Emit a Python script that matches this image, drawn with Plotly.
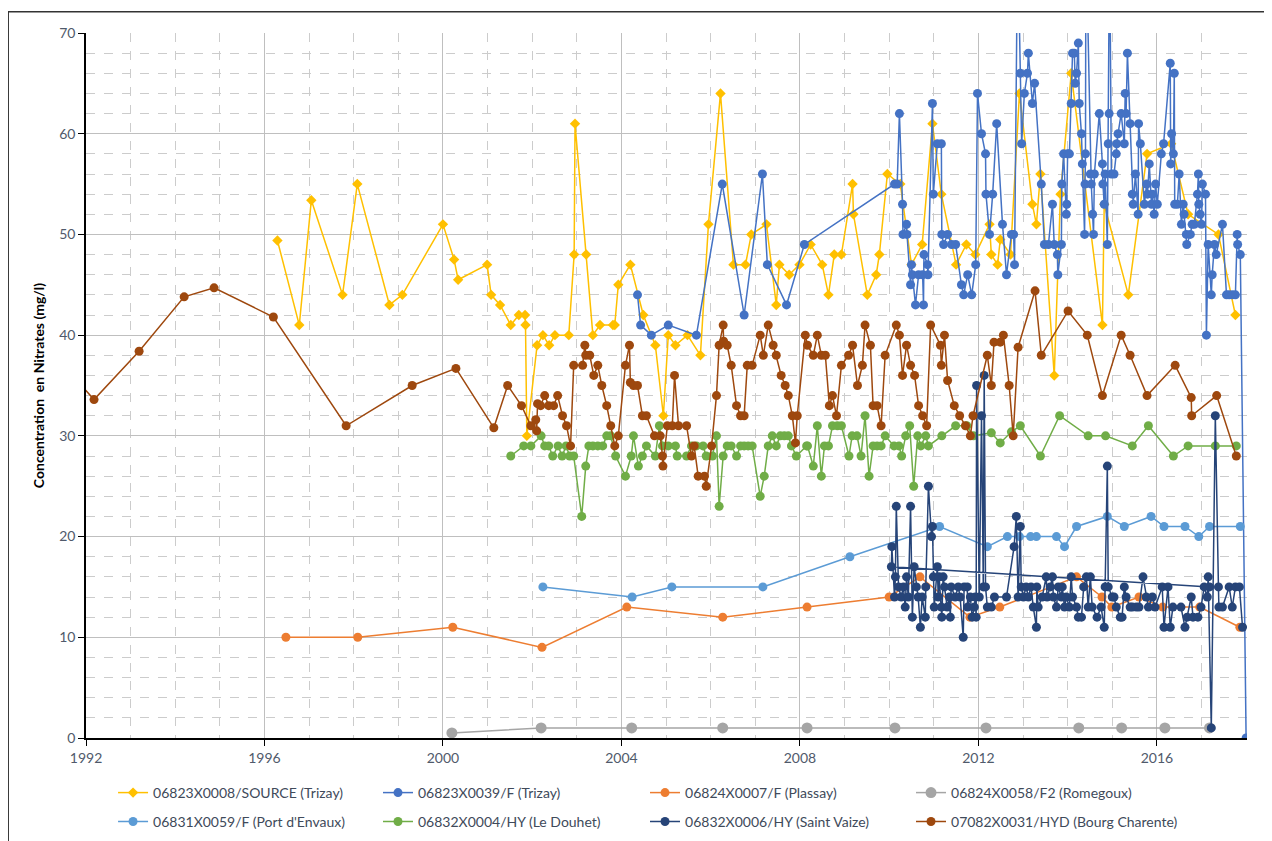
import plotly.graph_objects as go

# (decimal year, nitrate mg/l)
src_trizay = [
    (1996.29, 49.4), (1996.78, 41), (1997.05, 53.4), (1997.75, 44), (1998.08, 55), (1998.80, 43),
    (1999.09, 44), (2000.00, 51), (2000.25, 47.5), (2000.34, 45.5), (2000.99, 47), (2001.08, 44),
    (2001.28, 43), (2001.52, 41), (2001.70, 42), (2001.84, 42), (2001.85, 41), (2001.88, 30),
    (2002.11, 39), (2002.24, 40), (2002.38, 39), (2002.51, 40), (2002.82, 40), (2002.94, 48),
    (2002.96, 61), (2003.21, 48), (2003.36, 40), (2003.52, 41), (2003.81, 41), (2003.85, 41),
    (2003.93, 45), (2004.20, 47), (2004.49, 42), (2004.76, 39), (2004.94, 32), (2005.05, 40),
    (2005.21, 39), (2005.48, 40), (2005.77, 38), (2005.95, 51), (2006.22, 64), (2006.51, 47),
    (2006.78, 47), (2006.91, 50), (2007.25, 51), (2007.47, 43), (2007.54, 47), (2007.76, 46),
    (2007.99, 47), (2008.24, 49), (2008.50, 47), (2008.64, 44), (2008.77, 48), (2008.93, 48),
    (2009.18, 55), (2009.20, 52), (2009.51, 44), (2009.71, 46), (2009.78, 48), (2009.96, 56),
    (2010.25, 55), (2010.50, 47), (2010.74, 49), (2010.97, 61), (2011.17, 54), (2011.50, 47),
    (2011.73, 49), (2011.93, 48), (2012.25, 51), (2012.29, 48), (2012.43, 47), (2012.49, 49.5),
    (2012.72, 48), (2012.92, 64), (2013.21, 53), (2013.30, 51), (2013.39, 56), (2013.70, 36),
    (2013.84, 54), (2014.08, 66), (2014.78, 41), (2014.82, 53), (2015.36, 44), (2015.78, 58),
    (2016.32, 59), (2016.70, 52), (2017.38, 50), (2017.76, 42),
]

f_trizay = [
    (2004.36, 44), (2004.43, 41), (2004.67, 40), (2005.05, 41), (2005.68, 40), (2006.26, 55),
    (2006.75, 42), (2007.16, 56), (2007.27, 47), (2007.70, 43), (2008.10, 49), (2010.12, 55),
    (2010.18, 55), (2010.23, 62), (2010.30, 53), (2010.31, 50), (2010.39, 51), (2010.40, 50),
    (2010.48, 45), (2010.50, 47), (2010.52, 46), (2010.59, 43), (2010.66, 46), (2010.75, 46),
    (2010.77, 43), (2010.78, 48), (2010.86, 47), (2010.87, 46), (2010.97, 63), (2010.99, 54),
    (2011.08, 59), (2011.17, 59), (2011.18, 50), (2011.22, 49), (2011.31, 50), (2011.40, 49),
    (2011.49, 49), (2011.62, 45), (2011.67, 44), (2011.76, 46), (2011.85, 44), (2011.94, 47),
    (2011.98, 64), (2012.07, 60), (2012.16, 58), (2012.17, 54), (2012.25, 50), (2012.32, 54),
    (2012.41, 61), (2012.54, 51), (2012.63, 46), (2012.74, 50), (2012.79, 50), (2012.81, 47),
    (2012.88, 80), (2012.94, 66), (2012.97, 59), (2013.03, 64), (2013.10, 66), (2013.12, 68),
    (2013.21, 63), (2013.26, 65), (2013.41, 55), (2013.48, 49), (2013.57, 49), (2013.66, 53),
    (2013.70, 49), (2013.77, 48), (2013.78, 46), (2013.86, 49), (2013.87, 55), (2013.91, 58),
    (2013.97, 52), (2013.98, 53), (2014.00, 58), (2014.04, 58), (2014.08, 63), (2014.11, 68),
    (2014.15, 68), (2014.17, 65), (2014.20, 66), (2014.24, 69), (2014.26, 63), (2014.31, 60),
    (2014.33, 57), (2014.38, 50), (2014.39, 55), (2014.40, 58), (2014.41, 80), (2014.51, 56),
    (2014.53, 55), (2014.56, 52), (2014.58, 50), (2014.60, 56), (2014.71, 62), (2014.78, 57),
    (2014.79, 55), (2014.82, 53), (2014.84, 56), (2014.89, 49), (2014.91, 59), (2014.93, 62),
    (2014.94, 80), (2014.98, 56), (2015.04, 56), (2015.09, 58), (2015.10, 59), (2015.13, 60),
    (2015.20, 62), (2015.27, 59), (2015.29, 64), (2015.31, 62), (2015.34, 68), (2015.40, 61),
    (2015.45, 54), (2015.47, 53), (2015.52, 56), (2015.58, 52), (2015.59, 61), (2015.63, 59),
    (2015.72, 53), (2015.77, 55), (2015.79, 54), (2015.83, 57), (2015.88, 53), (2015.90, 54),
    (2015.94, 52), (2015.97, 55), (2016.01, 53), (2016.10, 58), (2016.15, 59), (2016.30, 67),
    (2016.31, 57), (2016.33, 60), (2016.37, 58), (2016.39, 66), (2016.40, 53), (2016.46, 53),
    (2016.50, 56), (2016.55, 51), (2016.59, 53), (2016.61, 52), (2016.66, 50), (2016.67, 49),
    (2016.75, 50), (2016.79, 51), (2016.84, 51), (2016.91, 54), (2016.93, 56), (2016.94, 53),
    (2016.97, 52), (2017.00, 51), (2017.02, 55), (2017.09, 54), (2017.11, 40), (2017.15, 49),
    (2017.22, 44), (2017.24, 46), (2017.29, 49), (2017.33, 48), (2017.47, 51), (2017.56, 44),
    (2017.62, 44), (2017.69, 44), (2017.76, 44), (2017.80, 50), (2017.81, 49), (2017.87, 48),
    (2018.00, 0),
]

plassay = [
    (1996.48, 10), (1998.09, 10), (2000.22, 11), (2002.22, 9), (2004.12, 13), (2006.27, 12),
    (2008.16, 13), (2010.00, 14), (2010.69, 16), (2011.81, 12), (2012.48, 13), (2014.20, 16),
    (2014.77, 14), (2014.99, 13), (2015.60, 14), (2016.13, 13), (2016.96, 13), (2017.86, 11),
]

romegoux = [
    (2000.20, 0.5), (2002.20, 1), (2004.23, 1), (2006.27, 1), (2008.16, 1), (2010.13, 1),
    (2012.17, 1), (2014.25, 1), (2015.21, 1), (2016.18, 1), (2017.18, 1),
]

port_envaux = [
    (2002.24, 15), (2004.24, 14), (2005.13, 15), (2007.17, 15), (2009.12, 18), (2011.13, 21),
    (2012.20, 19), (2012.65, 20), (2012.92, 20), (2013.17, 20), (2013.30, 20), (2013.75, 20),
    (2013.93, 19), (2014.20, 21), (2014.89, 22), (2015.27, 21), (2015.87, 22), (2016.16, 21),
    (2016.63, 21), (2016.94, 20), (2017.18, 21), (2017.87, 21),
]

le_douhet = [
    (2001.52, 28), (2001.81, 29), (2001.97, 29), (2002.20, 30), (2002.28, 29), (2002.37, 29),
    (2002.46, 28), (2002.58, 29), (2002.67, 28), (2002.76, 29), (2002.84, 28), (2002.93, 28),
    (2003.11, 22), (2003.20, 27), (2003.27, 29), (2003.36, 29), (2003.47, 29), (2003.58, 29),
    (2003.67, 30), (2003.76, 30), (2003.87, 28), (2004.09, 26), (2004.22, 28), (2004.27, 30),
    (2004.38, 27), (2004.47, 28), (2004.56, 29), (2004.76, 28), (2004.85, 31), (2004.92, 29),
    (2005.05, 29), (2005.21, 29), (2005.25, 28), (2005.46, 28), (2005.57, 29), (2005.68, 29),
    (2005.83, 29), (2005.90, 28), (2006.04, 28), (2006.13, 30), (2006.19, 23), (2006.28, 28),
    (2006.37, 29), (2006.46, 29), (2006.58, 28), (2006.67, 29), (2006.75, 29), (2006.84, 29),
    (2006.93, 29), (2007.11, 24), (2007.20, 26), (2007.29, 29), (2007.38, 30), (2007.47, 29),
    (2007.56, 30), (2007.65, 30), (2007.74, 30), (2007.81, 29), (2007.92, 28), (2008.15, 29),
    (2008.17, 29), (2008.30, 27), (2008.39, 31), (2008.48, 26), (2008.55, 29), (2008.64, 29),
    (2008.73, 31), (2008.84, 31), (2008.93, 31), (2009.10, 28), (2009.17, 30), (2009.28, 30),
    (2009.37, 28), (2009.46, 32), (2009.55, 26), (2009.64, 29), (2009.73, 29), (2009.82, 29),
    (2009.91, 30), (2010.11, 29), (2010.22, 29), (2010.28, 28), (2010.37, 30), (2010.46, 31),
    (2010.55, 25), (2010.64, 30), (2010.71, 29), (2010.82, 30), (2010.88, 29), (2011.18, 30),
    (2011.49, 31), (2011.74, 31), (2011.89, 30), (2012.29, 30.3), (2012.49, 29.3), (2012.74, 30.4),
    (2012.94, 31), (2013.39, 28), (2013.82, 32), (2014.46, 30), (2014.85, 30), (2015.45, 29),
    (2015.81, 31), (2016.37, 28), (2016.70, 29), (2017.31, 29), (2017.78, 29),
]

saint_vaize = [
    (2017.18, 15), (2010.05, 17), (2010.06, 19), (2010.12, 14), (2010.14, 16), (2010.16, 23),
    (2010.21, 15), (2010.27, 14), (2010.32, 15), (2010.36, 13), (2010.39, 16), (2010.43, 14),
    (2010.48, 23), (2010.52, 12), (2010.56, 17), (2010.61, 15), (2010.65, 14), (2010.70, 11),
    (2010.74, 14), (2010.81, 12), (2010.82, 15), (2010.88, 25), (2010.95, 20), (2010.97, 21),
    (2010.99, 16), (2011.01, 13), (2011.08, 17), (2011.10, 14), (2011.12, 16), (2011.17, 13),
    (2011.18, 12), (2011.21, 16), (2011.24, 15), (2011.30, 13), (2011.35, 14), (2011.37, 12),
    (2011.39, 15), (2011.48, 14), (2011.55, 15), (2011.59, 14), (2011.66, 10), (2011.68, 15),
    (2011.75, 15), (2011.76, 13), (2011.82, 14), (2011.86, 12), (2011.91, 13), (2011.93, 14),
    (2011.95, 12), (2011.96, 35), (2012.02, 14), (2012.07, 32), (2012.11, 15), (2012.13, 36),
    (2012.16, 15), (2012.20, 13), (2012.29, 13), (2012.36, 14), (2012.63, 14), (2012.80, 19),
    (2012.85, 22), (2012.89, 14), (2012.94, 21), (2012.96, 15), (2013.01, 14), (2013.07, 15),
    (2013.12, 14), (2013.18, 15), (2013.23, 13), (2013.30, 11), (2013.31, 15), (2013.34, 13),
    (2013.43, 14), (2013.52, 16), (2013.54, 14), (2013.61, 15), (2013.66, 16), (2013.68, 14),
    (2013.75, 13), (2013.79, 15), (2013.86, 14), (2013.88, 15), (2013.93, 13), (2013.97, 14),
    (2014.04, 13), (2014.08, 16), (2014.11, 14), (2014.20, 13), (2014.24, 12), (2014.31, 12),
    (2014.36, 15), (2014.42, 16), (2014.46, 13), (2014.51, 16), (2014.55, 13), (2014.66, 12),
    (2014.75, 13), (2014.82, 11), (2014.84, 15), (2014.89, 27), (2014.91, 15), (2015.00, 14),
    (2015.04, 14), (2015.09, 13), (2015.18, 12), (2015.22, 12), (2015.27, 15), (2015.31, 14),
    (2015.40, 13), (2015.45, 13), (2015.54, 13), (2015.60, 13), (2015.69, 16), (2015.76, 14),
    (2015.81, 13), (2015.90, 14), (2015.96, 13), (2016.12, 15), (2016.16, 11), (2016.25, 15),
    (2016.30, 11), (2016.36, 13), (2016.54, 13), (2016.63, 11), (2016.68, 12), (2016.77, 14),
    (2016.81, 12), (2016.92, 12), (2016.99, 13), (2017.06, 15), (2017.13, 14), (2017.15, 16),
    (2017.22, 1), (2017.31, 32), (2017.38, 15), (2017.39, 13), (2017.47, 13), (2017.62, 15),
    (2017.69, 13), (2017.76, 15), (2017.85, 15), (2017.92, 11),
]

bourg_charente = [
    (1991.90, 35), (1992.18, 33.6), (1993.19, 38.4), (1994.20, 43.8), (1994.87, 44.7), (1996.20, 41.8),
    (1997.83, 31), (1999.31, 35), (2000.29, 36.7), (2001.14, 30.8), (2001.45, 35), (2001.76, 33),
    (2001.97, 31), (2002.08, 31.6), (2002.10, 30.5), (2002.12, 33.2), (2002.19, 33), (2002.28, 34),
    (2002.37, 33), (2002.48, 33), (2002.57, 34), (2002.68, 32), (2002.77, 31), (2002.86, 29),
    (2002.93, 37), (2003.13, 37), (2003.18, 39), (2003.20, 38), (2003.29, 38), (2003.38, 36),
    (2003.47, 37), (2003.56, 35), (2003.67, 33), (2003.76, 31), (2003.85, 29), (2003.93, 30),
    (2004.09, 37), (2004.18, 39), (2004.20, 35.3), (2004.27, 35), (2004.36, 35), (2004.47, 32),
    (2004.56, 32), (2004.74, 30), (2004.87, 30), (2004.92, 28), (2004.93, 27), (2005.03, 31),
    (2005.14, 31), (2005.19, 36), (2005.28, 31), (2005.46, 31), (2005.57, 28), (2005.63, 29),
    (2005.72, 26), (2005.86, 26), (2005.90, 25), (2006.02, 29), (2006.13, 34), (2006.19, 39),
    (2006.28, 41), (2006.29, 39.4), (2006.37, 39), (2006.46, 37), (2006.58, 33), (2006.67, 32),
    (2006.75, 32), (2006.82, 37), (2006.93, 37), (2007.11, 40), (2007.18, 38), (2007.29, 41),
    (2007.40, 39), (2007.47, 38), (2007.58, 36), (2007.67, 35), (2007.74, 34), (2007.83, 32),
    (2007.90, 29.3), (2007.94, 32), (2008.12, 40), (2008.17, 39), (2008.30, 38), (2008.39, 40),
    (2008.48, 38), (2008.57, 38), (2008.66, 33), (2008.73, 34), (2008.82, 32), (2008.93, 37),
    (2009.09, 38), (2009.18, 39), (2009.29, 35), (2009.40, 37), (2009.46, 41), (2009.58, 39),
    (2009.64, 33), (2009.73, 33), (2009.82, 31), (2009.91, 38), (2010.16, 41), (2010.23, 40),
    (2010.30, 36), (2010.39, 39), (2010.48, 37), (2010.57, 36), (2010.66, 33), (2010.75, 32),
    (2010.84, 31), (2010.93, 41), (2011.15, 39), (2011.17, 37), (2011.24, 40), (2011.31, 35.5),
    (2011.46, 33), (2011.58, 32), (2011.71, 31), (2011.82, 30), (2011.88, 32), (2012.20, 38),
    (2012.29, 35), (2012.35, 39.3), (2012.49, 39.3), (2012.56, 40), (2012.69, 35), (2012.78, 30),
    (2012.89, 38.8), (2013.27, 44.4), (2013.41, 38), (2014.01, 42.4), (2014.44, 40), (2014.78, 34),
    (2015.20, 40), (2015.40, 38), (2015.78, 34), (2016.41, 37), (2016.77, 33.8), (2016.78, 32),
    (2017.34, 34), (2017.78, 28),
]

series = [
    ("06823X0008/SOURCE (Trizay)", src_trizay, "#FFC000", "diamond", 8),
    ("06823X0039/F (Trizay)", f_trizay, "#4472C4", "circle", 9),
    ("06824X0007/F (Plassay)", plassay, "#ED7D31", "circle", 9),
    ("06824X0058/F2 (Romegoux)", romegoux, "#A5A5A5", "circle", 11),
    ("06831X0059/F (Port d'Envaux)", port_envaux, "#5B9BD5", "circle", 9),
    ("06832X0004/HY (Le Douhet)", le_douhet, "#70AD47", "circle", 9),
    ("06832X0006/HY (Saint Vaize)", saint_vaize, "#264478", "circle", 9),
    ("07082X0031/HYD (Bourg Charente)", bourg_charente, "#9E480E", "circle", 9),
]

legend_cols = [0.0233, 0.2515, 0.4815, 0.7106]
legend_rows = [-0.078, -0.119]

fig = go.Figure()
for i, (name, pts, color, symbol, size) in enumerate(series):
    fig.add_trace(go.Scatter(
        x=[p[0] for p in pts],
        y=[p[1] for p in pts],
        name=name,
        mode="lines+markers",
        line=dict(color=color, width=1.5),
        marker=dict(color=color, symbol=symbol, size=size),
        cliponaxis=(name != "06824X0058/F2 (Romegoux)"),
        showlegend=True,
        legend="legend" if i == 0 else "legend%d" % (i + 1),
    ))

tick_font = dict(family="Lato", size=14, color="#505A6B")

fig.update_xaxes(
    range=[1992, 2018.02],
    tickmode="array",
    tickvals=[1992, 1996, 2000, 2004, 2008, 2012, 2016],
    ticktext=["1992", "1996", "2000", "2004", "2008", "2012", "2016"],
    showgrid=True, gridcolor="#BFBFBF", gridwidth=1,
    minor=dict(tickmode="linear", tick0=1992, dtick=1, showgrid=True,
               gridcolor="#CCCCCC", griddash="dash", gridwidth=1),
    showline=True, linecolor="black", linewidth=1.5,
    ticks="outside", ticklen=6, tickcolor="black",
    zeroline=False, tickfont=tick_font, automargin=False,
)
fig.update_yaxes(
    range=[0, 70], tick0=0, dtick=10,
    showgrid=True, gridcolor="#BFBFBF", gridwidth=1,
    minor=dict(tick0=0, dtick=2, showgrid=True,
               gridcolor="#CCCCCC", griddash="dash", gridwidth=1),
    showline=True, linecolor="black", linewidth=1.5,
    ticks="outside", ticklen=6, tickcolor="black",
    zeroline=False, tickfont=tick_font, automargin=False,
    title=dict(text="<b>Concentration  en Nitrates (mg/l)</b>",
               font=dict(family="Lato", size=14, color="black"), standoff=11),
)

legend_font = dict(family="Lato", size=14, color="#404A5A")
legends = {}
for i in range(len(series)):
    key = "legend" if i == 0 else "legend%d" % (i + 1)
    legends[key] = dict(orientation="h", x=legend_cols[i % 4], y=legend_rows[i // 4],
                        xanchor="left", yanchor="middle", font=legend_font,
                        bgcolor="rgba(0,0,0,0)", visible=True)

fig.update_layout(
    width=1272, height=841,
    showlegend=True,
    margin=dict(l=78, r=33, t=25, b=111, autoexpand=False),
    plot_bgcolor="white", paper_bgcolor="white",
    shapes=[dict(type="rect", xref="paper", yref="paper",
                 x0=-0.067, x1=1.05, y0=-0.3, y1=1.03,
                 line=dict(color="#333333", width=1.5))],
    **legends,
)

fig.write_html("out.html")
